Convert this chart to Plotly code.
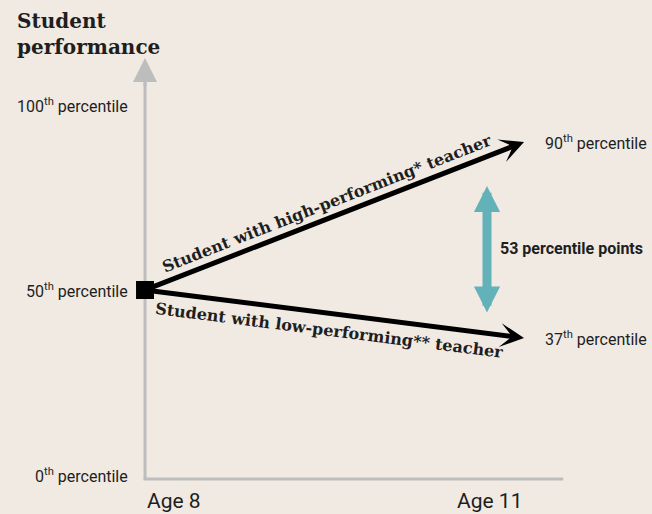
import math
import plotly.graph_objects as go

# ---- data -------------------------------------------------------------
ages = [8, 11]
age_labels = ["Age 8", "Age 11"]

pct_ticks = [0, 50, 100]
pct_tick_labels = [
    "0<sup>th</sup> percentile",
    "50<sup>th</sup> percentile",
    "100<sup>th</sup> percentile",
]

high_teacher_pct = [50, 90]
low_teacher_pct = [50, 37]
end_labels = ["90<sup>th</sup> percentile", "37<sup>th</sup> percentile"]
series_labels = [
    "Student with high-performing* teacher",
    "Student with low-performing** teacher",
]
gap_points = high_teacher_pct[1] - low_teacher_pct[1]

# ---- layout constants -------------------------------------------------
W, H = 652, 514
X_RANGE = [6.852, 12.013]
Y_RANGE = [-10.54, 128.38]
PX_X = W / (X_RANGE[1] - X_RANGE[0])
PX_Y = H / (Y_RANGE[1] - Y_RANGE[0])

BG = "#F0EAE3"
AXIS_GREY = "#BDBDBD"
TEAL = "#63B2BA"
INK = "#1E1E1E"
SANS = "Roboto, Liberation Sans, sans-serif"
SERIF = "DejaVu Serif, serif"

AXIS_BASE = -1.1      # where the two axis lines meet
Y_AXIS_TIP = 112.7    # tip of the vertical axis arrow
X_AXIS_END = 11.31    # right end of the horizontal axis line
GAP_X = 10.707        # horizontal position of the gap arrow


def screen_angle(x0, y0, x1, y1):
    """Angle (degrees, screen space) of the segment between two data points."""
    return math.degrees(math.atan2((y1 - y0) * PX_Y, (x1 - x0) * PX_X))


fig = go.Figure()

# starting point: both students at the 50th percentile at age 8
fig.add_trace(go.Scatter(
    x=[ages[0]], y=[high_teacher_pct[0]], mode="markers",
    marker=dict(symbol="square", size=18, color="black"),
    hoverinfo="skip", cliponaxis=False,
))

shapes = [
    dict(type="line", xref="x", yref="y", layer="below",
         x0=ages[0], x1=ages[0], y0=AXIS_BASE, y1=Y_AXIS_TIP - 3,
         line=dict(color=AXIS_GREY, width=3)),
    dict(type="line", xref="x", yref="y", layer="below",
         x0=ages[0] - 0.012, x1=X_AXIS_END, y0=AXIS_BASE, y1=AXIS_BASE,
         line=dict(color=AXIS_GREY, width=3)),
]

annotations = []

# arrowhead on the vertical axis
annotations.append(dict(
    x=ages[0], y=Y_AXIS_TIP, ax=ages[0], ay=Y_AXIS_TIP - 8,
    xref="x", yref="y", axref="x", ayref="y", text="",
    showarrow=True, arrowhead=2, arrowsize=1.6, arrowwidth=3,
    arrowcolor=AXIS_GREY,
))

# trajectories
for pct in (high_teacher_pct, low_teacher_pct):
    annotations.append(dict(
        x=ages[1], y=pct[1], ax=ages[0], ay=pct[0],
        xref="x", yref="y", axref="x", ayref="y", text="",
        showarrow=True, arrowhead=3, arrowsize=0.8, arrowwidth=5,
        arrowcolor="black",
    ))

# labels along each trajectory
for pct, label, side, off, along in (
    (high_teacher_pct, series_labels[0], 1, 14, -0.02),
    (low_teacher_pct, series_labels[1], -1, 17, -0.02),
):
    ang = screen_angle(ages[0], pct[0], ages[1], pct[1])
    rad = math.radians(ang)
    xm = (ages[0] + ages[1]) / 2 + along
    ym = pct[0] + (pct[1] - pct[0]) * (xm - ages[0]) / (ages[1] - ages[0])
    annotations.append(dict(
        x=xm, y=ym, xref="x", yref="y", showarrow=False,
        text="<b>" + label + "</b>", textangle=-ang,
        xshift=-side * off * math.sin(rad), yshift=side * off * math.cos(rad),
        font=dict(family=SERIF, size=16, color=INK),
    ))

# gap between the two outcomes
annotations.append(dict(
    x=GAP_X, y=high_teacher_pct[1], ax=GAP_X, ay=low_teacher_pct[1],
    xref="x", yref="y", axref="x", ayref="y", text="",
    showarrow=True, arrowside="end+start",
    arrowhead=2, startarrowhead=2, arrowsize=0.58, startarrowsize=0.58,
    arrowwidth=9, arrowcolor=TEAL, standoff=44, startstandoff=24,
))
annotations.append(dict(
    x=GAP_X, y=(high_teacher_pct[1] + low_teacher_pct[1]) / 2,
    xref="x", yref="y", xanchor="left", showarrow=False,
    xshift=11, yshift=-8,
    text=f"<b>{gap_points} percentile points</b>",
    font=dict(family=SANS, size=16, color=INK),
))

# vertical axis labels
for v, t in zip(pct_ticks, pct_tick_labels):
    annotations.append(dict(
        x=ages[0], y=v, xref="x", yref="y", xanchor="right", showarrow=False,
        xshift=-15, text=t, font=dict(family=SANS, size=16, color=INK),
    ))

# end-point labels
for v, t in zip([high_teacher_pct[1], low_teacher_pct[1]], end_labels):
    annotations.append(dict(
        x=ages[1], y=v, xref="x", yref="y", xanchor="left", showarrow=False,
        xshift=19, text=t, font=dict(family=SANS, size=16, color=INK),
    ))

# horizontal axis labels
for a, t, anchor in zip(ages, age_labels, ["left", "right"]):
    annotations.append(dict(
        x=a, y=0, xref="x", yref="paper", xanchor=anchor, yanchor="bottom",
        showarrow=False, yshift=-1, text=t,
        font=dict(family=SANS, size=21, color=INK),
    ))

# axis title
annotations.append(dict(
    x=15 / W, y=1 - 7 / H, xref="paper", yref="paper",
    xanchor="left", yanchor="top", align="left", showarrow=False,
    text="<b>Student<br>performance</b>",
    font=dict(family=SERIF, size=20, color=INK),
))

fig.update_layout(
    width=W, height=H,
    margin=dict(l=0, r=0, t=0, b=0),
    paper_bgcolor=BG, plot_bgcolor=BG,
    showlegend=False,
    xaxis=dict(range=X_RANGE, visible=False, fixedrange=True),
    yaxis=dict(range=Y_RANGE, visible=False, fixedrange=True),
    shapes=shapes,
    annotations=annotations,
)

fig.write_html("out.html")
